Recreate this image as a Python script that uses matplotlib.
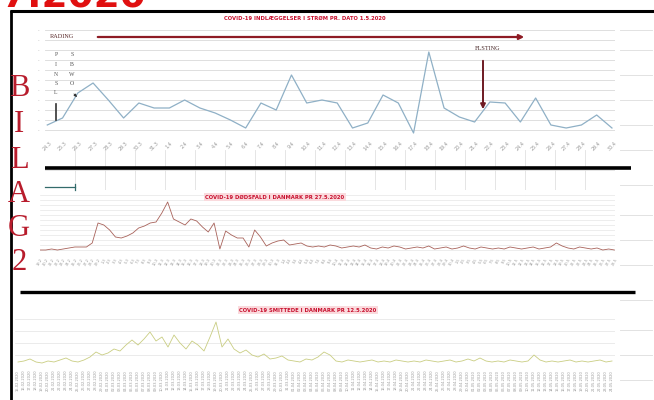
import matplotlib
matplotlib.use("Agg")
import matplotlib.pyplot as plt
import numpy as np

# ---------------- data ----------------
title1 = "COVID-19 INDLÆGGELSER I STRØM PR. DATO 1.5.2020"
title2 = "COVID-19 DØDSFALD I DANMARK PR 27.5.2020"
title3 = "COVID-19 SMITTEDE I DANMARK PR 12.5.2020"

dates1 = ["24.3", "25.3", "26.3", "27.3", "28.3", "29.3", "30.3", "31.3", "1.4", "2.4",
          "3.4", "4.4", "5.4", "6.4", "7.4", "8.4", "9.4", "10.4", "11.4", "12.4",
          "13.4", "14.4", "15.4", "16.4", "17.4", "18.4", "19.4", "20.4", "21.4", "22.4",
          "23.4", "24.4", "25.4", "26.4", "27.4", "28.4", "29.4", "30.4"]
values1 = [15, 22, 47, 57, 40, 22, 37, 32, 32, 40, 32, 27, 20, 12, 37, 30, 65, 37, 40, 37,
           12, 17, 45, 37, 7, 88, 32, 23, 18, 38, 37, 18, 42, 15, 12, 15, 25, 12]

values2 = [5, 5, 6, 5, 6, 7, 8, 8, 8, 12,
           32, 30, 25, 18, 17, 19, 22, 27, 29, 32,
           33, 42, 53, 36, 33, 30, 36, 34, 28, 23,
           32, 6, 24, 20, 17, 17, 8, 25, 18, 9,
           12, 14, 15, 10, 11, 12, 9, 8, 9, 8,
           10, 9, 7, 8, 9, 8, 10, 7, 6, 8,
           7, 9, 8, 6, 7, 8, 7, 9, 6, 7,
           8, 6, 7, 9, 7, 6, 8, 7, 6, 7,
           6, 8, 7, 6, 7, 8, 6, 7, 8, 12,
           9, 7, 6, 8, 7, 6, 7, 5, 6, 5]

values3 = [5, 6, 8, 5, 4, 6, 5, 7, 9, 6,
           5, 7, 10, 15, 12, 14, 18, 16, 22, 27,
           22, 28, 35, 26, 30, 20, 32, 24, 18, 26,
           22, 16, 30, 45, 20, 28, 18, 14, 17, 12,
           10, 13, 8, 9, 11, 7, 6, 5, 8, 7,
           10, 15, 12, 6, 5, 7, 6, 5, 6, 7,
           5, 6, 5, 7, 6, 5, 6, 5, 7, 6,
           5, 6, 7, 5, 6, 8, 6, 9, 6, 5,
           6, 5, 7, 6, 5, 6, 12, 7, 5, 6,
           5, 6, 7, 5, 6, 5, 6, 7, 5, 6]

month_days = [(2, 29), (3, 31), (4, 30), (5, 31)]
all_dates = []
for m, nd in month_days:
    for d in range(1, nd + 1):
        all_dates.append((d, m))
dates2 = ["%d.%d" % dm for dm in all_dates[18:18 + len(values2)]]
dates3 = ["%02d.%02d.2020" % dm for dm in all_dates[14:14 + len(values3)]]

# ---------------- figure ----------------
W, H = 654, 400
fig = plt.figure(figsize=(W / 100, H / 100), dpi=100)
fig.patch.set_facecolor("white")

def fr(x0, y0, x1, y1):
    return [x0 / W, 1 - y1 / H, (x1 - x0) / W, (y1 - y0) / H]

grid_c = "#d9d9d9"
tick_c = "#9a9a9a"

# Chart 1
ax1 = fig.add_axes(fr(45, 30, 615, 135))
x1 = np.arange(len(values1))
ax1.plot(x1, values1, color="#8fb0c6", lw=0.9)
ax1.set_xlim(-0.15, len(values1) - 0.8)
ax1.set_ylim(5, 110)
ax1.set_yticks(np.arange(10, 111, 10))
ax1.set_yticklabels(["·"] * 11, fontsize=4, color=tick_c)
ax1.set_xticks(x1)
ax1.set_xticklabels(dates1, rotation=45, fontsize=3.5, color=tick_c)
ax1.grid(axis="y", color=grid_c, lw=0.6)
ax1.tick_params(length=0, pad=4)
for s in ax1.spines.values():
    s.set_visible(False)

# Table-like area under chart 1
axt = fig.add_axes(fr(45, 150, 615, 190))
axt.set_xlim(0, 19)
axt.set_ylim(0, 1)
axt.set_xticks(np.arange(1, 19))
axt.set_yticks([0.5])
axt.grid(True, color="#e0e0e0", lw=0.6)
axt.tick_params(length=0, labelbottom=False, labelleft=False)
for s in axt.spines.values():
    s.set_visible(False)
axt.patch.set_alpha(0)

# Chart 2
ax2 = fig.add_axes(fr(40, 195, 615, 255))
x2 = np.arange(len(values2))
ax2.plot(x2, values2, color="#a8625a", lw=0.6)
ax2.set_xlim(0, len(values2) - 0.9)
ax2.set_ylim(0, 60)
ax2.set_yticks(np.arange(5, 61, 5))
ax2.set_yticklabels([])
ax2.set_xticks(x2[::1])
ax2.set_xticklabels(dates2, rotation=60, fontsize=2.6, color=tick_c)
ax2.grid(axis="y", color="#e6e6e6", lw=0.5)
ax2.tick_params(length=0, pad=2)
for s in ax2.spines.values():
    s.set_visible(False)

# Chart 3
ax3 = fig.add_axes(fr(15, 315, 615, 367))
x3 = np.arange(len(values3))
ax3.plot(x3, values3, color="#c9cd82", lw=0.6)
ax3.set_xlim(-0.5, len(values3) - 0.5)
ax3.set_ylim(0, 52)
ax3.set_yticks([12, 24, 36, 48])
ax3.set_yticklabels([])
ax3.set_xticks(x3)
ax3.set_xticklabels(dates3, rotation=90, fontsize=2.6, color=tick_c)
ax3.grid(axis="y", color="#e3e3e3", lw=0.5)
ax3.tick_params(length=0, pad=2)
for s in ax3.spines.values():
    s.set_visible(False)

# ---------------- overlay (page decoration) ----------------
ov = fig.add_axes([0, 0, 1, 1], zorder=10)
ov.set_xlim(0, W)
ov.set_ylim(H, 0)
ov.axis("off")
ov.patch.set_alpha(0)

red = "#c8102e"
dark_red = "#8e1b24"

# top heading cut off
ov.text(2, 7, "7.2020", color="#e01010", fontsize=27, fontweight="bold",
        ha="left", va="baseline", family="DejaVu Sans")

# page border
ov.plot([10, 654], [11, 11], color="black", lw=2.2, solid_capstyle="butt")
ov.plot([10.5, 10.5], [10, 400], color="black", lw=2.0, solid_capstyle="butt")

# BILAG 2 vertical
for ch, yy in zip("BILAG2", [89, 125, 160, 194, 228, 262]):
    ov.text(19, yy, ch, color="#b81c2c", fontsize=22, ha="center", va="center",
            family="Liberation Serif")

# titles
ov.text(305, 18, title1, color=red, fontsize=3.8, ha="center", va="center",
        fontweight="bold")
ov.text(275, 197, title2, color=red, fontsize=3.8, ha="center", va="center",
        fontweight="bold",
        bbox=dict(boxstyle="square,pad=0.3", fc="#fadadd", ec="none"))
ov.text(308, 310, title3, color=red, fontsize=3.8, ha="center", va="center",
        fontweight="bold",
        bbox=dict(boxstyle="square,pad=0.3", fc="#fadadd", ec="none"))

# annotations
ov.text(50, 36, "RADING", color="#5a2a2a", fontsize=4.5, ha="left", va="center",
        family="Liberation Serif")
ov.annotate("", xy=(527, 37), xytext=(95, 37),
            arrowprops=dict(arrowstyle="-|>", color=dark_red, lw=1.6,
                            mutation_scale=7))
ov.text(488, 48, "FLSTING", color="#4a2a2a", fontsize=4.5, ha="center",
        va="center", family="Liberation Serif")
ov.annotate("", xy=(483, 112), xytext=(483, 58),
            arrowprops=dict(arrowstyle="-|>", color="#6e1a22", lw=1.4,
                            mutation_scale=7))
for i, ch in enumerate("PINSL"):
    ov.text(56, 55 + i * 9.5, ch, color="#555555", fontsize=4.2, ha="center",
            va="center", family="Liberation Serif")
for i, ch in enumerate("SBWO"):
    ov.text(72, 55 + i * 9.5, ch, color="#555555", fontsize=4.2, ha="center",
            va="center", family="Liberation Serif")
ov.annotate("", xy=(79, 99), xytext=(72, 92),
            arrowprops=dict(arrowstyle="-|>", color="#333333", lw=0.6,
                            mutation_scale=4))
ov.plot([56, 56], [104, 120], color="#333333", lw=1.2)

# thick separators
ov.plot([45, 631], [168, 168], color="black", lw=2.6, solid_capstyle="butt")
ov.plot([20, 635], [292, 292], color="black", lw=2.4, solid_capstyle="butt")
ov.plot([45, 75], [187, 187], color="#336b6b", lw=0.9)
ov.plot([75, 75], [184, 190], color="#336b6b", lw=0.9)

# faint lines in the right margin
for yy in [30, 50, 75, 100, 125, 150, 185, 215, 240, 265, 300, 330, 355, 380]:
    ov.plot([620, 652], [yy, yy], color="#e2e2e2", lw=0.7)

fig.savefig("out.png", dpi=100, facecolor="white")
